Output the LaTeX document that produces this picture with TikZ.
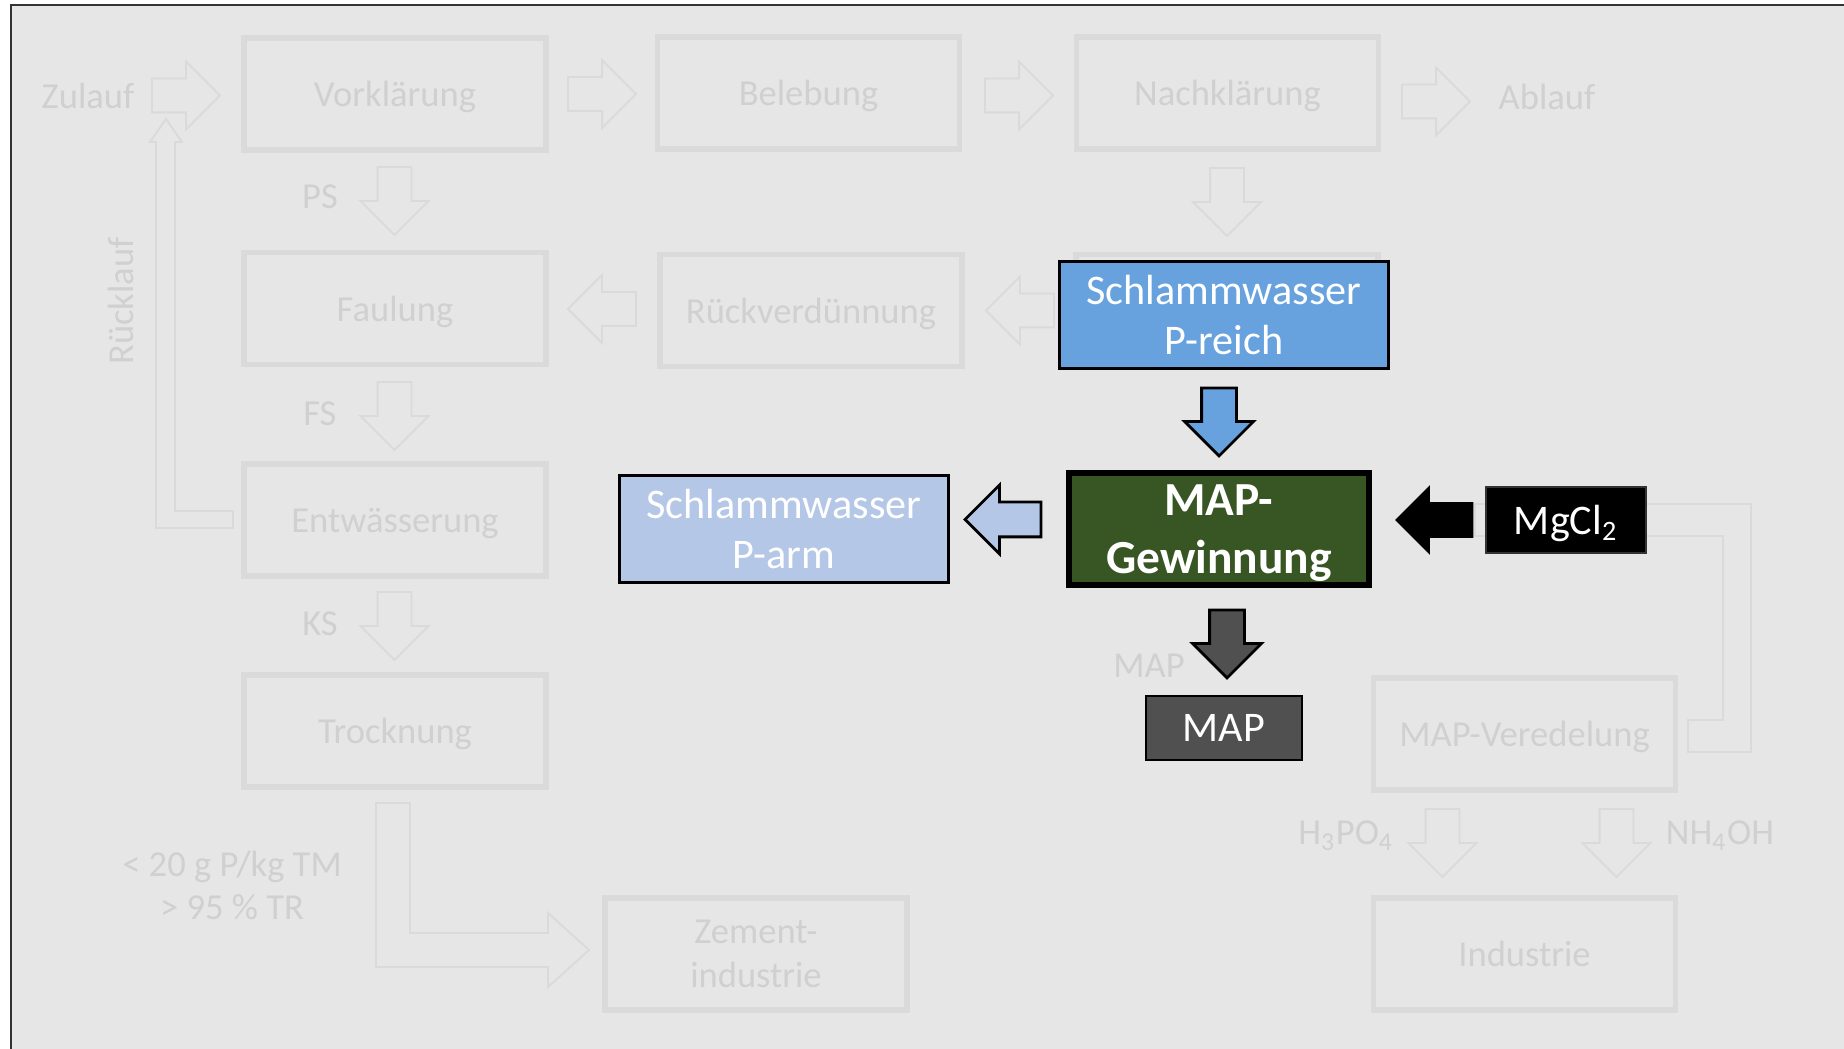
\documentclass[tikz,border=0pt]{standalone}
\usepackage{fontspec}
\setmainfont{Carlito}
\usetikzlibrary{shapes.arrows}

\definecolor{hinter}{HTML}{E6E6E6}
\definecolor{ghostline}{HTML}{DADADA}
\definecolor{ghosttext}{HTML}{D0D0D0}
\definecolor{blau}{HTML}{67A2DF}
\definecolor{hellblau}{HTML}{B4C7E7}
\definecolor{gruen}{HTML}{375623}
\definecolor{dunkelgrau}{HTML}{505050}

\begin{document}
\begin{tikzpicture}
    \tikzstyle{ghost}=[draw=ghostline, line width=1.6pt, minimum width=3.02cm, minimum height=1.12cm, inner sep=0pt, text depth=0pt, text=ghosttext, align=center, font={\fontsize{10.4}{12.6}\selectfont}]
    \tikzstyle{ghostlabel}=[inner sep=0pt, text depth=0pt, text=ghosttext, align=center, font={\fontsize{10.4}{12.3}\selectfont}]
    \tikzstyle{ghostarrow}=[single arrow, draw=ghostline, line width=0.55pt, inner sep=0.16cm, single arrow head extend=0.17cm, minimum height=0.68cm, anchor=tail, outer sep=0pt]
    \tikzstyle{ghostpipe}=[draw=ghostline, line width=0.55pt, line join=miter]
    \tikzstyle{box}=[draw=black, line width=0.8pt, inner sep=0pt, text=white, align=center, font={\fontsize{12}{14.2}\selectfont}]
    \tikzstyle{flowarrow}=[single arrow, draw=black, line width=0.8pt, inner sep=0.16cm, single arrow head extend=0.17cm, minimum height=0.68cm, anchor=tail, outer sep=0pt]

    \useasboundingbox (0,0) rectangle (18.44,-10.49);
    \fill[white] (0,0) rectangle (18.44,-10.49);
    \fill[hinter] (0.11,-0.05) rectangle (18.44,-10.49);
    \draw[black!80, line width=0.6pt] (0.11,-10.49) -- (0.11,-0.05) -- (18.44,-0.05);

    % Kläranlage (ausgegraut)
    \node[ghost] (vk) at (3.95,-0.94) {Vorklärung};
    \node[ghost] (bel) at (8.085,-0.93) {Belebung};
    \node[ghost] (nk) at (12.275,-0.93) {Nachklärung};
    \node[ghost] (sw) at (12.27,-3.105) {};
    \node[ghost] (fau) at (3.95,-3.085) {Faulung};
    \node[ghost] (rv) at (8.11,-3.105) {Rückverdünnung};
    \node[ghost] (ew) at (3.95,-5.20) {Entwässerung};
    \node[ghost] (tro) at (3.95,-7.31) {Trocknung};
    \node[ghost] (zem) at (7.56,-9.54) {Zement-\\industrie};
    \node[ghost] (mve) at (15.245,-7.34) {MAP-Veredelung};
    \node[ghost] (ind) at (15.245,-9.54) {Industrie};

    \node[ghostlabel] (zul) at (0.88,-0.96) {Zulauf};
    \node[ghostlabel] (abl) at (15.47,-0.97) {Ablauf};
    \node[ghostlabel] (ps) at (3.20,-1.97) {PS};
    \node[ghostlabel] (fs) at (3.20,-4.14) {FS};
    \node[ghostlabel] (ks) at (3.20,-6.24) {KS};
    \node[ghostlabel, rotate=90] (rl) at (1.21,-3.01) {Rücklauf};
    \node[ghostlabel] (grenz) at (2.32,-8.85) {< 20 g P/kg TM\\> 95 \% TR};
    \node[ghostlabel] (maptxt) at (11.49,-6.66) {MAP};
    \node[ghostlabel] (hpo) at (13.46,-8.33) {H\textsubscript{3}PO\textsubscript{4}};
    \node[ghostlabel] (nh) at (17.20,-8.33) {NH\textsubscript{4}OH};

    % Pfeile (ausgegraut)
    \node[ghostarrow] (p1) at (1.52,-0.955) {};
    \node[ghostarrow] (p2) at (5.68,-0.94) {};
    \node[ghostarrow] (p3) at (9.85,-0.955) {};
    \node[ghostarrow] (p4) at (14.02,-1.015) {};
    \node[ghostarrow, rotate=-90] (p5) at (12.27,-1.68) {};
    \node[ghostarrow, rotate=-90] (p6) at (3.945,-1.67) {};
    \node[ghostarrow, rotate=-90] (p7) at (3.945,-3.82) {};
    \node[ghostarrow, rotate=-90] (p8) at (3.945,-5.92) {};
    \node[ghostarrow, rotate=180] (p9) at (6.36,-3.09) {};
    \node[ghostarrow, rotate=180] (p10) at (10.54,-3.105) {};
    \node[ghostarrow, rotate=-90] (p11) at (14.425,-8.09) {};
    \node[ghostarrow, rotate=-90] (p12) at (16.165,-8.09) {};

    \draw[ghostpipe] (2.33,-5.11) -- (1.75,-5.11) -- (1.75,-1.42) -- (1.82,-1.42) -- (1.66,-1.19) -- (1.50,-1.42) -- (1.56,-1.42) -- (1.56,-5.28) -- (2.33,-5.28) -- cycle;
    \draw[ghostpipe] (3.76,-8.03) -- (4.10,-8.03) -- (4.10,-9.33) -- (5.48,-9.33) -- (5.48,-9.13) -- (5.89,-9.50) -- (5.48,-9.87) -- (5.48,-9.67) -- (3.76,-9.67) -- cycle;
    \draw[ghostpipe] (16.88,-7.20) -- (17.23,-7.20) -- (17.23,-5.36) -- (14.75,-5.36) -- (14.75,-5.04) -- (17.51,-5.04) -- (17.51,-7.52) -- (16.88,-7.52) -- cycle;

    % MAP-Gewinnung
    \node[box, fill=blau, minimum width=3.29cm, minimum height=1.07cm] (swr) at (12.24,-3.15) {Schlammwasser\\P-reich};
    \node[box, fill=hellblau, minimum width=3.29cm, minimum height=1.07cm] (swa) at (7.84,-5.29) {Schlammwasser\\P-arm};
    \node[box, fill=gruen, line width=1.6pt, minimum width=3.0cm, minimum height=1.12cm, text depth=0pt, font={\fontsize{13.5}{16.5}\selectfont\bfseries}] (mapg) at (12.19,-5.29) {MAP-\\Gewinnung};
    \node[box, fill=black, draw=black!80, line width=0.5pt, minimum width=1.6cm, minimum height=0.66cm, text depth=0pt] (mgcl) at (15.66,-5.20) {MgCl\textsubscript{2}};
    \node[box, fill=dunkelgrau, minimum width=1.56cm, minimum height=0.64cm] (map) at (12.24,-7.28) {MAP};

    \node[flowarrow, fill=blau, rotate=-90] (f1) at (12.19,-3.88) {};
    \node[flowarrow, fill=hellblau, rotate=180, minimum height=0.76cm] (f2) at (10.41,-5.195) {};
    \node[flowarrow, fill=black, rotate=180, minimum height=0.75cm, inner sep=0.15cm, single arrow head extend=0.15cm] (f3) at (14.72,-5.20) {};
    \node[flowarrow, fill=dunkelgrau, rotate=-90] (f4) at (12.27,-6.10) {};
\end{tikzpicture}
\end{document}
